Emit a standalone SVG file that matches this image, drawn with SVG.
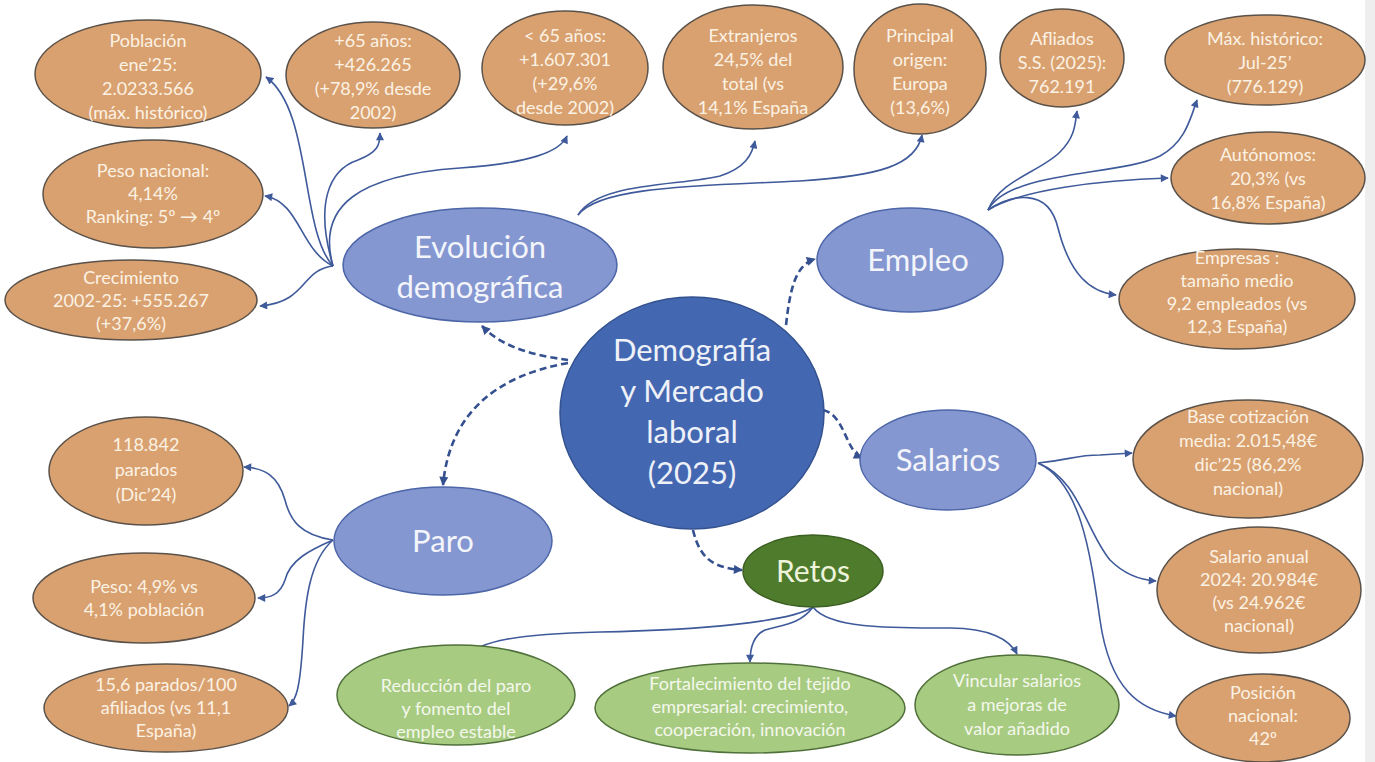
<svg xmlns="http://www.w3.org/2000/svg" width="1375" height="762" viewBox="0 0 1375 762">
<defs>
<marker id="ah" viewBox="0 0 10 10" refX="9" refY="5" markerWidth="9" markerHeight="8" markerUnits="userSpaceOnUse" orient="auto">
<path d="M0,0 L10,5 L0,10 z" fill="#3F5A9A"/>
</marker>
<marker id="ahd" viewBox="0 0 10 10" refX="9" refY="5" markerWidth="10" markerHeight="9" markerUnits="userSpaceOnUse" orient="auto">
<path d="M0,0 L10,5 L0,10 z" fill="#34508F"/>
</marker>
<style>
.or{fill:#D9A170;stroke:#5a524a;stroke-width:1.5}
.bl{fill:#8597D1;stroke:#4D66A8;stroke-width:1.5}
.ct{fill:#4467B1;stroke:#34528F;stroke-width:1.5}
.rt{fill:#4F7B2D;stroke:#3c5f22;stroke-width:1.5}
.gr{fill:#A8CB82;stroke:#50703a;stroke-width:1.5}
text{font-family:Lato,"Open Sans","Liberation Sans",sans-serif;text-anchor:middle}
.to{font-size:18px;fill:#FCF2E4}
.tb{font-size:31px;fill:#F3F5FB}
.tc{font-size:31px;fill:#EEF1F8}
.tr{font-size:30px;fill:#EEF3DC}
.tg{font-size:18px;fill:#F4F8EC}
.c{fill:none;stroke:#3F5A9A;stroke-width:1.6;marker-end:url(#ah)}
.d{fill:none;stroke:#34508F;stroke-width:2.6;stroke-dasharray:7 4;marker-end:url(#ahd)}
</style>
</defs>
<rect x="0" y="0" width="1375" height="762" fill="#ffffff"/>
<rect x="1365" y="0" width="10" height="762" fill="#eeeeee"/>

<g id="connectors">
<path class="c" d="M333,266 C300,230 312,110 266,77"/>
<path class="c" d="M333,266 C315,205 328,170 358,160 C378,152 380,145 380,133"/>
<path class="c" d="M333,266 C316,205 360,175 460,168 C530,163 560,152 567,136"/>
<path class="c" d="M333,266 C300,250 300,202 265,196"/>
<path class="c" d="M333,266 C300,270 308,302 260,306"/>
<path class="c" d="M578,215 C598,182 680,186 720,176 C745,168 752,155 755,141"/>
<path class="c" d="M578,215 C600,186 700,186 800,181 C880,176 916,165 922,135"/>
<path class="c" d="M988,210 C1000,180 1040,172 1060,152 C1075,137 1075,125 1077,111"/>
<path class="c" d="M988,210 C1010,170 1120,176 1160,156 C1185,142 1190,120 1197,100"/>
<path class="c" d="M988,210 C1020,190 1100,180 1168,178"/>
<path class="c" d="M988,210 C1010,195 1048,186 1058,228 C1070,275 1090,292 1116,295"/>
<path class="c" d="M1038,463 C1070,460 1075,455 1100,455 L1132,453"/>
<path class="c" d="M1038,463 C1080,480 1085,530 1110,560 C1125,575 1140,580 1156,581"/>
<path class="c" d="M1038,463 C1080,482 1090,550 1100,620 C1110,690 1140,710 1176,716"/>
<path class="c" d="M333,540 C300,535 290,520 285,500 C278,476 265,468 244,467"/>
<path class="c" d="M333,540 C310,550 290,560 285,580 C280,595 270,598 258,598"/>
<path class="c" d="M333,540 C310,560 305,600 303,640 C300,690 296,700 289,706"/>
<path class="c" d="M813,607 C790,622 700,630 600,632 C520,634 480,640 463,658"/>
<path class="c" d="M813,607 C800,625 780,625 765,630 C752,636 750,650 750,662"/>
<path class="c" d="M813,607 C830,630 900,628 950,628 C990,628 1010,640 1017,654"/>
<path class="d" d="M568,360 C540,356 505,350 482,326"/>
<path class="d" d="M568,363 C500,375 450,410 443,485"/>
<path class="d" d="M786,325 C790,290 795,265 815,259"/>
<path class="d" d="M823,410 C845,415 845,450 862,458"/>
<path class="d" d="M693,530 C700,560 715,568 742,570"/>
</g>

<g id="poblacion"><ellipse class="or" cx="148" cy="74" rx="113" ry="54"/>
<text class="to"><tspan x="148" y="47">Población</tspan><tspan x="148" y="71">ene’25:</tspan><tspan x="148" y="95">2.0233.566</tspan><tspan x="148" y="119">(máx. histórico)</tspan></text></g>
<g id="mas65"><ellipse class="or" cx="373" cy="75" rx="87" ry="53"/>
<text class="to"><tspan x="373" y="47">+65 años:</tspan><tspan x="373" y="71">+426.265</tspan><tspan x="373" y="95">(+78,9% desde</tspan><tspan x="373" y="119">2002)</tspan></text></g>
<g id="menos65"><ellipse class="or" cx="565" cy="68" rx="83" ry="57"/>
<text class="to"><tspan x="565" y="42">&lt; 65 años:</tspan><tspan x="565" y="66">+1.607.301</tspan><tspan x="565" y="90">(+29,6%</tspan><tspan x="565" y="114">desde 2002)</tspan></text></g>
<g id="extranjeros"><ellipse class="or" cx="753" cy="67" rx="90" ry="62"/>
<text class="to"><tspan x="753" y="42">Extranjeros</tspan><tspan x="753" y="66">24,5% del</tspan><tspan x="753" y="90">total (vs</tspan><tspan x="753" y="114">14,1% España</tspan></text></g>
<g id="origen"><ellipse class="or" cx="920" cy="69" rx="66" ry="65"/>
<text class="to"><tspan x="920" y="42">Principal</tspan><tspan x="920" y="66">origen:</tspan><tspan x="920" y="90">Europa</tspan><tspan x="920" y="114">(13,6%)</tspan></text></g>
<g id="afiliados"><ellipse class="or" cx="1062" cy="58" rx="62" ry="49"/>
<text class="to"><tspan x="1062" y="45">Afliados</tspan><tspan x="1062" y="69">S.S. (2025):</tspan><tspan x="1062" y="93">762.191</tspan></text></g>
<g id="maxhist"><ellipse class="or" cx="1265" cy="60" rx="100" ry="45"/>
<text class="to"><tspan x="1265" y="45">Máx. histórico:</tspan><tspan x="1265" y="69">Jul-25’</tspan><tspan x="1265" y="93">(776.129)</tspan></text></g>
<g id="autonomos"><ellipse class="or" cx="1268" cy="178" rx="97" ry="46"/>
<text class="to"><tspan x="1268" y="161">Autónomos:</tspan><tspan x="1268" y="185">20,3% (vs</tspan><tspan x="1268" y="209">16,8% España)</tspan></text></g>
<g id="empresas"><ellipse class="or" cx="1237" cy="299" rx="118" ry="50"/>
<text class="to"><tspan x="1237" y="264">Empresas :</tspan><tspan x="1237" y="287">tamaño medio</tspan><tspan x="1237" y="310">9,2 empleados (vs</tspan><tspan x="1237" y="333">12,3 España)</tspan></text></g>
<g id="pesonacional"><ellipse class="or" cx="153" cy="194" rx="110" ry="54"/>
<text class="to"><tspan x="153" y="177">Peso nacional:</tspan><tspan x="153" y="200">4,14%</tspan><tspan x="153" y="223">Ranking: 5º → 4º</tspan></text></g>
<g id="crecimiento"><ellipse class="or" cx="131" cy="300" rx="126" ry="40"/>
<text class="to"><tspan x="131" y="284">Crecimiento</tspan><tspan x="131" y="307">2002-25: +555.267</tspan><tspan x="131" y="330">(+37,6%)</tspan></text></g>

<g id="evolucion"><ellipse class="bl" cx="480" cy="265" rx="137" ry="57"/>
<text class="tb"><tspan x="480" y="258">Evolución</tspan><tspan x="480" y="298">demográfica</tspan></text></g>
<g id="empleo"><ellipse class="bl" cx="910" cy="260" rx="93" ry="52"/>
<text class="tb" x="918" y="271">Empleo</text></g>
<g id="salarios"><ellipse class="bl" cx="948" cy="460" rx="88" ry="50"/>
<text class="tb" x="948" y="471">Salarios</text></g>
<g id="paro"><ellipse class="bl" cx="443" cy="541" rx="109" ry="54"/>
<text class="tb" x="443" y="552">Paro</text></g>

<g id="centro"><ellipse class="ct" cx="692" cy="413" rx="132" ry="116"/>
<text class="tc"><tspan x="692" y="361">Demografía</tspan><tspan x="692" y="402">y Mercado</tspan><tspan x="692" y="443">laboral</tspan><tspan x="692" y="484">(2025)</tspan></text></g>

<g id="retos"><ellipse class="rt" cx="813" cy="571" rx="70" ry="36"/>
<text class="tr" x="813" y="582">Retos</text></g>

<g id="parados"><ellipse class="or" cx="146" cy="471" rx="97" ry="54"/>
<text class="to"><tspan x="146" y="451">118.842</tspan><tspan x="146" y="476">parados</tspan><tspan x="146" y="501">(Dic’24)</tspan></text></g>
<g id="pesoparo"><ellipse class="or" cx="144" cy="598" rx="111" ry="45"/>
<text class="to"><tspan x="144" y="593">Peso: 4,9% vs</tspan><tspan x="144" y="616">4,1% población</tspan></text></g>
<g id="tasa"><ellipse class="or" cx="166" cy="708" rx="122" ry="44"/>
<text class="to"><tspan x="166" y="691">15,6 parados/100</tspan><tspan x="166" y="714">afiliados (vs 11,1</tspan><tspan x="166" y="737">España)</tspan></text></g>

<g id="basecot"><ellipse class="or" cx="1248" cy="459" rx="115" ry="59"/>
<text class="to"><tspan x="1248" y="423">Base cotización</tspan><tspan x="1248" y="447">media: 2.015,48€</tspan><tspan x="1248" y="471">dic’25 (86,2%</tspan><tspan x="1248" y="495">nacional)</tspan></text></g>
<g id="salarioanual"><ellipse class="or" cx="1259" cy="590" rx="102" ry="63"/>
<text class="to"><tspan x="1259" y="563">Salario anual</tspan><tspan x="1259" y="586">2024: 20.984€</tspan><tspan x="1259" y="609">(vs 24.962€</tspan><tspan x="1259" y="632">nacional)</tspan></text></g>
<g id="posicion"><ellipse class="or" cx="1263" cy="718" rx="87" ry="44"/>
<text class="to"><tspan x="1263" y="699">Posición</tspan><tspan x="1263" y="722">nacional:</tspan><tspan x="1263" y="745">42º</tspan></text></g>

<g id="reduccion"><ellipse class="gr" cx="456" cy="695" rx="119" ry="50"/>
<text class="tg"><tspan x="456" y="692">Reducción del paro</tspan><tspan x="456" y="715">y fomento del</tspan><tspan x="456" y="738">empleo estable</tspan></text></g>
<g id="fortalecimiento"><ellipse class="gr" cx="750" cy="708" rx="155" ry="45"/>
<text class="tg"><tspan x="750" y="690">Fortalecimiento del tejido</tspan><tspan x="750" y="713">empresarial: crecimiento,</tspan><tspan x="750" y="736">cooperación, innovación</tspan></text></g>
<g id="vincular"><ellipse class="gr" cx="1017" cy="705" rx="102" ry="50"/>
<text class="tg"><tspan x="1017" y="687">Vincular salarios</tspan><tspan x="1017" y="711">a mejoras de</tspan><tspan x="1017" y="735">valor añadido</tspan></text></g>
</svg>
